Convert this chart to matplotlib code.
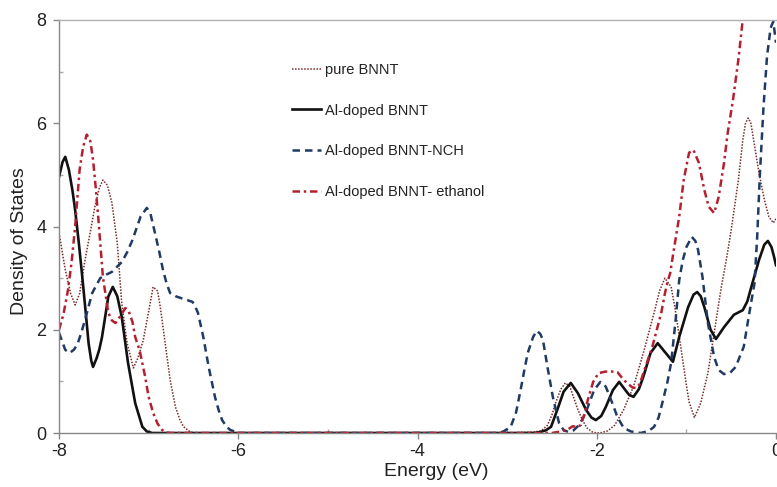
import matplotlib
matplotlib.use("Agg")
import matplotlib.pyplot as plt
from matplotlib.ticker import MultipleLocator

plt.rcParams['font.family'] = ['Liberation Sans', 'DejaVu Sans']
plt.rcParams['axes.unicode_minus'] = False

# ---- data ----
labels = ["pure BNNT", "Al-doped BNNT", "Al-doped BNNT-NCH", "Al-doped BNNT- ethanol"]

E_pure = [-8.00, -7.93, -7.87, -7.82, -7.77, -7.71, -7.65, -7.60, -7.55, -7.51, -7.46, -7.41, -7.35,
          -7.30, -7.24, -7.17, -7.12, -7.06, -7.00, -6.95, -6.90, -6.87, -6.82, -6.76, -6.70, -6.65,
          -6.61, -6.55, -6.50, -3.00, -2.70, -2.62, -2.55, -2.50, -2.46, -2.40, -2.35, -2.30, -2.26,
          -2.21, -2.16, -2.11, -2.05, -2.00, -1.94, -1.88, -1.80, -1.70, -1.59, -1.48, -1.36, -1.30,
          -1.24, -1.17, -1.13, -1.09, -1.02, -0.97, -0.91, -0.84, -0.76, -0.69, -0.61, -0.55, -0.50,
          -0.42, -0.37, -0.34, -0.31, -0.28, -0.25, -0.19, -0.13, -0.08, -0.03, 0.00]
D_pure = [3.88, 3.16, 2.70, 2.48, 2.70, 3.35, 3.90, 4.38, 4.75, 4.90, 4.80, 4.46, 3.68,
          2.52, 1.74, 1.26, 1.45, 1.80, 2.35, 2.83, 2.75, 2.44, 1.80, 1.03, 0.50, 0.25,
          0.12, 0.04, 0.00, 0.00, 0.02, 0.04, 0.15, 0.35, 0.58, 0.85, 0.97, 0.90, 0.70,
          0.45, 0.25, 0.10, 0.02, 0.00, 0.01, 0.04, 0.15, 0.45, 0.90, 1.55, 2.33, 2.75,
          3.00, 2.83, 2.45, 2.00, 1.16, 0.60, 0.30, 0.58, 1.16, 1.94, 2.83, 3.40, 3.93,
          4.90, 5.68, 6.00, 6.10, 6.00, 5.68, 5.04, 4.52, 4.19, 4.07, 4.15]

E_al = [-8.00, -7.96, -7.93, -7.89, -7.85, -7.82, -7.78, -7.74, -7.70, -7.67, -7.64, -7.62, -7.58,
        -7.55, -7.52, -7.45, -7.40, -7.35, -7.30, -7.23, -7.15, -7.07, -7.02, -6.96, -2.70, -2.63,
        -2.57, -2.51, -2.44, -2.37, -2.29, -2.21, -2.12, -2.06, -2.01, -1.95, -1.90, -1.82, -1.75,
        -1.68, -1.64, -1.59, -1.53, -1.48, -1.40, -1.32, -1.24, -1.15, -1.08, -0.98, -0.92, -0.88,
        -0.84, -0.80, -0.73, -0.67, -0.58, -0.47, -0.37, -0.32, -0.28, -0.19, -0.13, -0.09, -0.05,
        -0.02, 0.00]
D_al = [4.96, 5.25, 5.35, 5.10, 4.70, 4.32, 3.70, 3.02, 2.30, 1.74, 1.40, 1.28, 1.45,
        1.62, 1.86, 2.64, 2.83, 2.65, 2.25, 1.36, 0.58, 0.12, 0.03, 0.00, 0.00, 0.02,
        0.05, 0.12, 0.45, 0.80, 0.97, 0.77, 0.45, 0.30, 0.25, 0.33, 0.50, 0.83, 0.99,
        0.83, 0.74, 0.70, 0.85, 1.09, 1.55, 1.74, 1.57, 1.38, 1.86, 2.44, 2.68, 2.73,
        2.65, 2.44, 2.00, 1.82, 2.05, 2.29, 2.38, 2.55, 2.80, 3.35, 3.65, 3.72, 3.60,
        3.40, 3.25]

E_nch = [-8.00, -7.93, -7.88, -7.83, -7.79, -7.75, -7.71, -7.63, -7.54, -7.47, -7.41, -7.30, -7.24,
         -7.18, -7.09, -7.02, -6.98, -6.93, -6.88, -6.84, -6.80, -6.76, -6.70, -6.65, -6.58, -6.51,
         -6.48, -6.45, -6.39, -6.33, -6.26, -6.22, -6.18, -6.13, -6.09, -6.03, -6.00, -3.10, -3.04,
         -2.96, -2.90, -2.85, -2.81, -2.77, -2.71, -2.67, -2.63, -2.60, -2.55, -2.49, -2.45, -2.42,
         -2.37, -2.32, -2.26, -2.20, -2.15, -2.10, -2.03, -1.96, -1.90, -1.87, -1.82, -1.77, -1.70,
         -1.62, -1.51, -1.42, -1.36, -1.31, -1.26, -1.21, -1.17, -1.12, -1.08, -1.04, -1.00, -0.94,
         -0.90, -0.87, -0.82, -0.76, -0.69, -0.64, -0.58, -0.51, -0.45, -0.36, -0.30, -0.24, -0.21,
         -0.18, -0.14, -0.10, -0.06, -0.03, 0.00]
D_nch = [1.94, 1.61, 1.55, 1.62, 1.74, 1.95, 2.19, 2.71, 3.00, 3.07, 3.12, 3.31, 3.50,
         3.74, 4.19, 4.36, 4.25, 3.88, 3.50, 3.16, 2.90, 2.71, 2.65, 2.62, 2.58, 2.54,
         2.45, 2.33, 1.86, 1.28, 0.70, 0.45, 0.25, 0.12, 0.06, 0.02, 0.00, 0.00, 0.03,
         0.12, 0.40, 0.83, 1.20, 1.55, 1.86, 1.98, 1.92, 1.80, 1.28, 0.70, 0.40, 0.19,
         0.06, 0.02, 0.05, 0.15, 0.30, 0.50, 0.83, 0.99, 0.90, 0.77, 0.55, 0.31, 0.10,
         0.03, 0.00, 0.04, 0.12, 0.30, 0.64, 1.00, 1.36, 2.19, 2.96, 3.35, 3.60, 3.80,
         3.72, 3.55, 3.02, 2.13, 1.47, 1.22, 1.14, 1.17, 1.28, 1.67, 2.30, 2.90, 3.80,
         5.00, 6.30, 7.30, 7.85, 7.97, 7.56]

E_eth = [-8.00, -7.95, -7.90, -7.86, -7.82, -7.77, -7.73, -7.69, -7.65, -7.62, -7.59, -7.56, -7.51,
         -7.45, -7.41, -7.37, -7.31, -7.26, -7.22, -7.18, -7.15, -7.10, -7.04, -7.00, -6.95, -6.90,
         -6.85, -6.80, -6.75, -2.50, -2.40, -2.32, -2.27, -2.22, -2.18, -2.14, -2.10, -2.04, -1.98,
         -1.90, -1.82, -1.77, -1.70, -1.65, -1.60, -1.56, -1.52, -1.48, -1.38, -1.28, -1.24, -1.21,
         -1.18, -1.14, -1.08, -1.03, -0.97, -0.92, -0.86, -0.80, -0.75, -0.69, -0.64, -0.58, -0.54,
         -0.48, -0.42, -0.39, -0.36, -0.30]
D_eth = [2.00, 2.30, 2.77, 3.30, 4.00, 5.10, 5.55, 5.78, 5.65, 5.29, 4.75, 4.13, 3.02,
         2.33, 2.18, 2.13, 2.28, 2.42, 2.35, 2.15, 1.86, 1.60, 1.10, 0.70, 0.39, 0.18,
         0.06, 0.01, 0.00, 0.00, 0.03, 0.07, 0.13, 0.12, 0.15, 0.35, 0.64, 0.99, 1.16,
         1.19, 1.19, 1.18, 1.03, 0.95, 0.88, 0.87, 0.95, 1.16, 1.67, 2.33, 2.70, 2.93,
         3.10, 3.55, 4.19, 4.90, 5.43, 5.48, 5.23, 4.71, 4.38, 4.26, 4.57, 5.23, 5.80,
         6.45, 7.23, 7.70, 8.20, 9.00]

x_ticks = [-8, -6, -4, -2, 0]
y_ticks = [0, 2, 4, 6, 8]

# ---- figure ----
W, H = 777, 487
fig = plt.figure(figsize=(W / 100, H / 100), dpi=100)
ax = fig.add_axes([59 / W, 1 - 433 / H, (776 - 59) / W, (433 - 20) / H])

ax.plot(E_pure, D_pure, color='#7a2a2a', lw=1.1, linestyle=(0, (1, 1)), label=labels[0])
ax.plot(E_al, D_al, color='#111111', lw=1.9, linestyle='-', label=labels[1])
ax.plot(E_nch, D_nch, color='#1f3a63', lw=1.8, linestyle=(0, (3, 2)), label=labels[2])
ax.plot(E_eth, D_eth, color='#b52030', lw=1.8, linestyle=(0, (3, 1.5, 1, 1.5)), label=labels[3])

ax.set_xlim(-8, 0)
ax.set_ylim(0, 8)
ax.set_xticks(x_ticks)
ax.set_yticks(y_ticks)
ax.xaxis.set_minor_locator(MultipleLocator(1))
ax.yaxis.set_minor_locator(MultipleLocator(1))
ax.tick_params(which='major', direction='out', length=4, width=1, color='#888888',
               labelsize=13, labelcolor='#222222')
ax.tick_params(axis='x', which='major', pad=3)
ax.tick_params(axis='y', which='major', pad=5)
ax.tick_params(which='minor', direction='in', length=3, width=1, color='#aaaaaa')

for s in ['left', 'bottom']:
    ax.spines[s].set_color('#888888')
    ax.spines[s].set_linewidth(1)
ax.spines['top'].set_color('#b0b0b0')
ax.spines['top'].set_linewidth(1)
ax.spines['right'].set_visible(False)

ax.set_xlabel('Energy (eV)', fontsize=14, color='#222222')
ax.set_ylabel('Density of States', fontsize=14, color='#222222')
ax.xaxis.set_label_coords(0.526, -0.073)
ax.yaxis.set_label_coords(-0.043, 0.465)

leg = ax.legend(loc='upper left', bbox_to_anchor=(292 / W, 1 - 63 / H),
                bbox_transform=fig.transFigure, frameon=False, fontsize=10.5,
                handlelength=2.0, handletextpad=0.25, labelspacing=1.82, borderpad=0,
                borderaxespad=0)
for t in leg.get_texts():
    t.set_color('#222222')

fig.savefig('out.png', dpi=100)
